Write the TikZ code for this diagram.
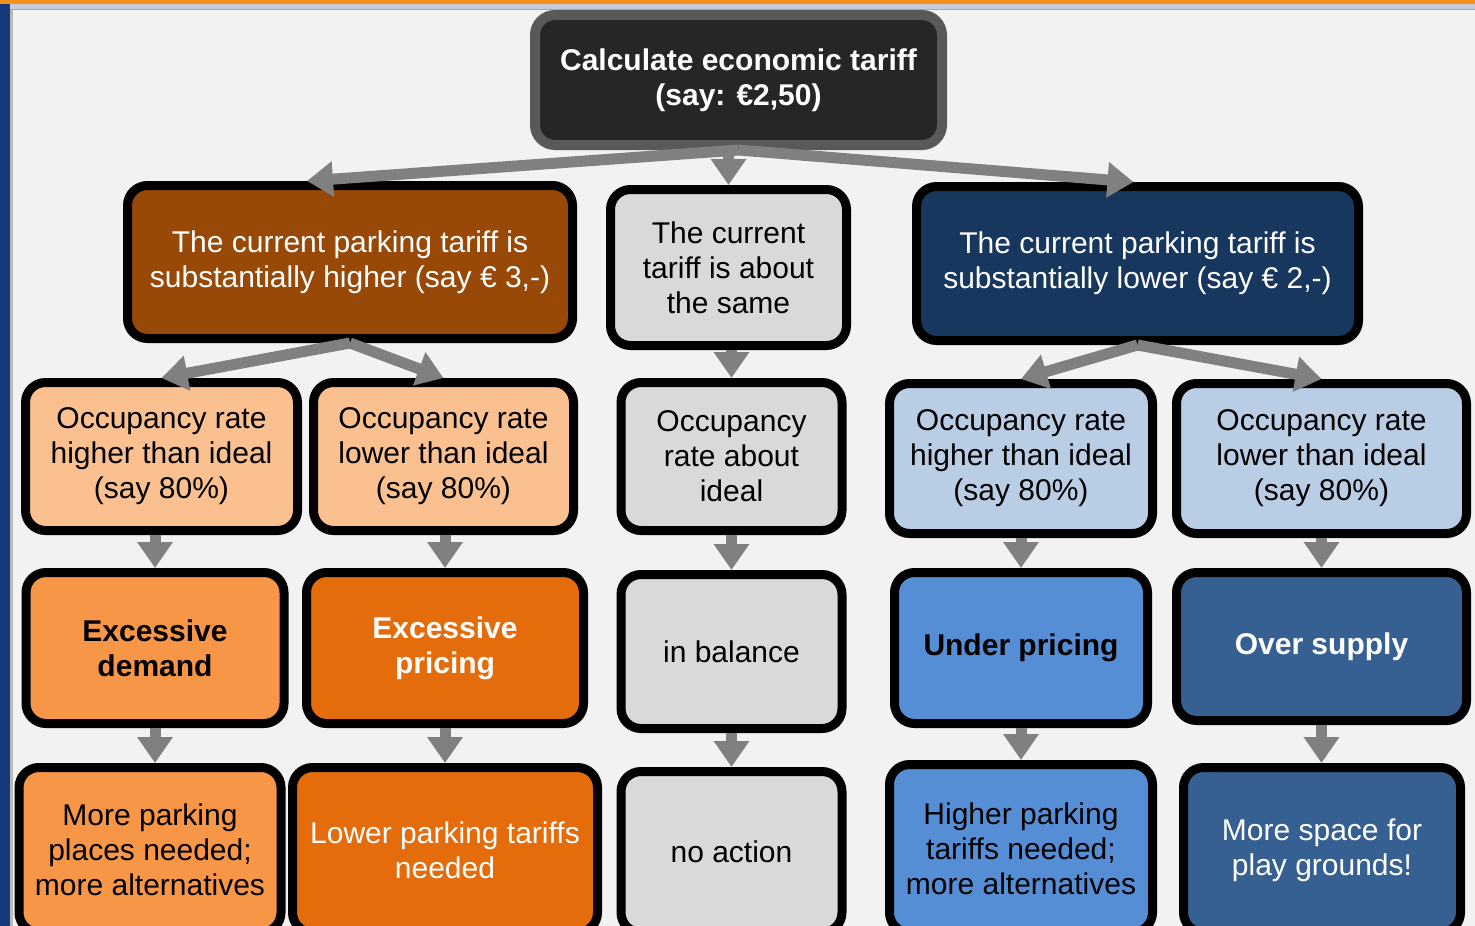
\documentclass[tikz,border=0pt]{standalone}
\usepackage{fontspec}
\setmainfont{Liberation Sans}
\usetikzlibrary{arrows.meta}

\definecolor{pagebg}{HTML}{F2F2F2}
\definecolor{barorange}{HTML}{F39019}
\definecolor{barblue}{HTML}{17387B}
\definecolor{barband}{HTML}{CACBD8}
\definecolor{arrowgrey}{HTML}{808080}
\definecolor{topfill}{HTML}{262626}
\definecolor{topline}{HTML}{595959}
\definecolor{brownfill}{HTML}{984807}
\definecolor{greyfill}{HTML}{D9D9D9}
\definecolor{navyfill}{HTML}{17375E}
\definecolor{peachfill}{HTML}{FAC090}
\definecolor{skyfill}{HTML}{B9CDE5}
\definecolor{orangefill}{HTML}{F79646}
\definecolor{burntfill}{HTML}{E46C0A}
\definecolor{bluefill}{HTML}{558ED5}
\definecolor{steelfill}{HTML}{376092}

\newcommand\boxfont{\fontsize{30}{35}\selectfont}

\begin{document}
\begin{tikzpicture}[x=1pt,y=-1pt,
	box/.style={draw=black, line width=9pt, rounded corners=20pt, align=center, inner sep=0pt, font=\boxfont},
	boldbox/.style={box, font=\boxfont\bfseries},
	flow/.style={draw=arrowgrey, line width=11pt, -{Triangle[width=34pt,length=26pt]}}]
	\useasboundingbox (0,0) rectangle (1475,926);
	\clip (0,0) rectangle (1475,926);
	\fill[pagebg] (0,0) rectangle (1475,926);
	\fill[barorange] (0,0) rectangle (1475,4);
	\fill[barband] (10,4) rectangle (1475,10);
	\fill[gray!70] (10,8.5) rectangle (1475,10);
	\fill[barblue] (0,4) rectangle (10,926);
	\fill[gray!55] (10,10) rectangle (13,926);

	\node[boldbox, draw=topline, line width=10pt, fill=topfill, text=white,
		minimum width=407pt, minimum height=130pt] (calc) at (738.5,80) {Calculate economic tariff\\(say: €2,50)};

	\node[box, fill=brownfill, text=white, minimum width=445pt, minimum height=153pt] (high) at (350,262) {The current parking tariff is\\substantially higher (say € 3,-)};
	\node[box, fill=greyfill, minimum width=236pt, minimum height=156pt] (same) at (728.5,267.5) {The current\\tariff is about\\the same};
	\node[box, fill=navyfill, text=white, minimum width=442pt, minimum height=154pt] (low) at (1137.5,263.5) {The current parking tariff is\\substantially lower (say € 2,-)};

	\node[box, fill=peachfill, minimum width=272pt, minimum height=148pt] (highocc) at (161.5,456.5) {Occupancy rate\\higher than ideal\\(say 80\%)};
	\node[box, fill=peachfill, minimum width=260pt, minimum height=148pt] (highund) at (443.5,456.5) {Occupancy rate\\lower than ideal\\(say 80\%)};
	\node[box, fill=greyfill, minimum width=221pt, minimum height=148pt] (sameocc) at (731.5,456.5) {Occupancy\\rate about\\ideal};
	\node[box, fill=skyfill, minimum width=263pt, minimum height=150pt] (lowocc) at (1021,458.5) {Occupancy rate\\higher than ideal\\(say 80\%)};
	\node[box, fill=skyfill, minimum width=290pt, minimum height=150pt] (lowund) at (1321.5,458.5) {Occupancy rate\\lower than ideal\\(say 80\%)};

	\node[boldbox, fill=orangefill, minimum width=258pt, minimum height=151pt] (demand) at (155,648) {Excessive\\demand};
	\node[boldbox, fill=burntfill, text=white, minimum width=277pt, minimum height=151pt] (pricing) at (445,648) {Excessive\\pricing};
	\node[box, fill=greyfill, minimum width=221pt, minimum height=154pt] (balance) at (731.5,651.5) {in balance};
	\node[boldbox, fill=bluefill, minimum width=253pt, minimum height=151pt] (under) at (1021,648) {Under pricing};
	\node[boldbox, fill=steelfill, text=white, minimum width=290pt, minimum height=148pt] (over) at (1321.5,646.5) {Over supply};

	\node[box, fill=orangefill, minimum width=262pt, minimum height=165pt] (places) at (150,850) {More parking\\places needed;\\more alternatives};
	\node[box, fill=burntfill, text=white, minimum width=305pt, minimum height=165pt] (lower) at (445,850) {Lower parking tariffs\\needed};
	\node[box, fill=greyfill, minimum width=221pt, minimum height=161pt] (noact) at (731.5,852) {no action};
	\node[box, fill=bluefill, minimum width=263pt, minimum height=168pt] (higher) at (1021,848.5) {Higher parking\\tariffs needed;\\more alternatives};
	\node[box, fill=steelfill, text=white, minimum width=277pt, minimum height=165pt] (play) at (1322,850) {More space for\\play grounds!};

	\draw[flow] (calc.south) -- ([xshift=-43pt]high.north);
	\draw[flow] (same.north |- calc.south) -- (same.north);
	\draw[flow] (calc.south) -- ([xshift=-4pt]low.north);

	\draw[flow] (high.south) -- (highocc.north);
	\draw[flow] (high.south) -- (highund.north);
	\draw[flow] (same.south -| sameocc.north) -- (sameocc.north);
	\draw[flow] (low.south) -- (lowocc.north);
	\draw[flow] (low.south) -- (lowund.north);

	\draw[flow] (demand.north |- highocc.south) -- (demand.north);
	\draw[flow] (pricing.north |- highund.south) -- (pricing.north);
	\draw[flow] (sameocc.south) -- (balance.north);
	\draw[flow] (lowocc.south) -- (under.north);
	\draw[flow] (over.north |- lowund.south) -- (over.north);

	\draw[flow] (demand.south) -- (demand.south |- places.north);
	\draw[flow] (pricing.south) -- (lower.north);
	\draw[flow] (balance.south) -- (noact.north);
	\draw[flow] (under.south) -- (higher.north);
	\draw[flow] (over.south) -- (over.south |- play.north);
\end{tikzpicture}
\end{document}
